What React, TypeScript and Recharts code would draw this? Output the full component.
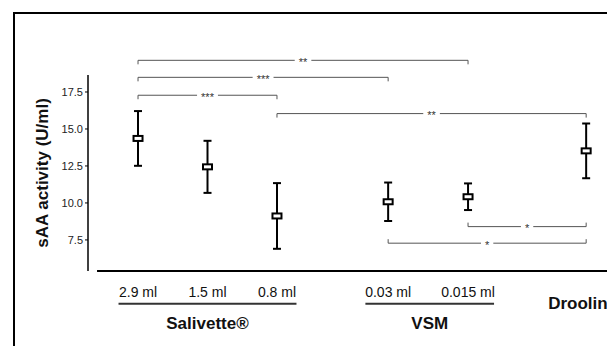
import React from 'react';
import { ComposedChart, Scatter, ErrorBar, XAxis, YAxis, ReferenceLine } from 'recharts';

// ---- data ----
const categories = ['2.9 ml', '1.5 ml', '0.8 ml', '0.03 ml', '0.015 ml', 'Drooling'];
const categoryPos = [1, 2, 3, 4.6, 5.75, 7.45];
const meanActivity = [14.36, 12.44, 9.12, 10.08, 10.42, 13.52];
const sdActivity = [1.85, 1.76, 2.22, 1.3, 0.9, 1.85];
const yTicks = [7.5, 10, 12.5, 15, 17.5];
const groupNames = ['Salivette®', 'VSM'];
const groupMembers = [[0, 1, 2], [3, 4]];
const bracketFrom = [0, 0, 0, 2, 4, 3];
const bracketTo = [4, 3, 2, 5, 5, 5];
const bracketLevel = [19.64, 18.49, 17.28, 16.04, 8.4, 7.28];
const bracketLabel = ['**', '***', '***', '**', '*', '*'];
const bracketSide = ['down', 'down', 'down', 'down', 'up', 'up'];

const Y_DOMAIN: [number, number] = [5.4, 20];
const X_DOMAIN: [number, number] = [0.28, 7.75];
const Y_AXIS_TOP = 18.64;
const X_AXIS_START = 0.41;

const FONT = '"Liberation Sans", Arial, sans-serif';

const data = categories.map((c, i) => ({
  name: c,
  x: categoryPos[i],
  mean: meanActivity[i],
  err: sdActivity[i],
}));

const BoxMarker = (p: any) => {
  const { cx, cy } = p;
  if (cx == null || cy == null) return null;
  return <rect x={cx - 4.5} y={cy - 2.5} width={9} height={5} fill="#fff" stroke="#000" strokeWidth={2} />;
};

const XTick = (props: any) => {
  const { x, y, payload } = props;
  const i = categoryPos.indexOf(payload.value);
  if (i < 0) return null;
  const grouped = groupMembers.some((m) => m.includes(i));
  if (grouped) {
    return (
      <text x={x} y={y + 25.7} textAnchor="middle" fontSize={14} fill="#111" fontFamily={FONT}>
        {categories[i]}
      </text>
    );
  }
  return (
    <text x={x - 3} y={y + 37.5} textAnchor="middle" fontSize={17} fontWeight="bold" fill="#111" fontFamily={FONT}>
      {categories[i]}
    </text>
  );
};

const bracketShape = (label: string, side: string) => (p: any) => {
  const { x1, x2, y1 } = p;
  const t = side === 'down' ? 4 : -4;
  const mid = (x1 + x2) / 2;
  const gap = (label.length * 4.3) / 2 + 4;
  return (
    <g>
      <path
        d={`M${x1},${y1 + t}V${y1}H${mid - gap}M${mid + gap},${y1}H${x2}V${y1 + t}`}
        fill="none"
        stroke="#555"
        strokeWidth={1}
      />
      <text x={mid} y={y1 + 5.5} textAnchor="middle" fontSize={11} fill="#333" fontFamily={FONT}>
        {label}
      </text>
    </g>
  );
};

const groupShape = (name: string, padL: number, padR: number) => (p: any) => {
  const { x1, x2, y1 } = p;
  const y = y1 + 32.7;
  const a = x1 - padL;
  const b = x2 + padR;
  return (
    <g>
      <line x1={a} x2={b} y1={y} y2={y} stroke="#333" strokeWidth={2} />
      <text x={(a + b) / 2} y={y + 25.3} textAnchor="middle" fontSize={17} fontWeight="bold" fill="#111" fontFamily={FONT}>
        {name}
      </text>
    </g>
  );
};

const YLabel = (props: any) => {
  const vb = props.viewBox || { x: 28, y: 55, width: 60, height: 216 };
  const cx = vb.x + 14.3;
  const cy = vb.y + vb.height / 2 + 10;
  return (
    <text
      x={cx}
      y={cy}
      transform={`rotate(-90, ${cx}, ${cy})`}
      textAnchor="middle"
      dominantBaseline="central"
      fontSize={17}
      fontWeight="bold"
      fill="#111"
      fontFamily={FONT}
    >
      sAA activity (U/ml)
    </text>
  );
};

export default function App() {
  return (
    <div style={{ position: 'absolute', left: 0, top: 0, width: 607, height: 346, overflow: 'hidden', background: '#fff' }}>
      <div
        style={{
          position: 'absolute',
          left: 13,
          top: 12,
          width: 1000,
          height: 1000,
          border: '2px solid #000',
        }}
      />
      <div style={{ position: 'absolute', left: 0, top: 0 }}>
        <ComposedChart width={607} height={346} data={data} margin={{ top: 55, right: 0, bottom: 45, left: 28 }}>
          <XAxis
            dataKey="x"
            type="number"
            domain={X_DOMAIN}
            allowDataOverflow
            ticks={categoryPos}
            interval={0}
            axisLine={false}
            tickLine={false}
            tickSize={0}
            tickMargin={0}
            height={30}
            tick={<XTick />}
          />
          <YAxis
            type="number"
            domain={Y_DOMAIN}
            allowDataOverflow
            ticks={yTicks}
            tickFormatter={(v: number) => v.toFixed(1)}
            axisLine={false}
            tickLine={{ stroke: '#000', strokeWidth: 1 }}
            tickSize={3}
            tickMargin={2}
            width={60}
            tick={{ fontSize: 11, fill: '#222', fontFamily: FONT }}
            label={{ content: <YLabel /> }}
          />
          <ReferenceLine
            segment={[
              { x: X_DOMAIN[0], y: Y_DOMAIN[0] },
              { x: X_DOMAIN[0], y: Y_AXIS_TOP },
            ]}
            stroke="#000"
            strokeWidth={1.5}
          />
          <ReferenceLine
            segment={[
              { x: X_AXIS_START, y: Y_DOMAIN[0] },
              { x: X_DOMAIN[1], y: Y_DOMAIN[0] },
            ]}
            stroke="#000"
            strokeWidth={2}
          />
          {groupNames.map((g, gi) => {
            const m = groupMembers[gi];
            const first = m[0];
            const last = m[m.length - 1];
            return (
              <ReferenceLine
                key={g}
                segment={[
                  { x: categoryPos[first], y: Y_DOMAIN[0] },
                  { x: categoryPos[last], y: Y_DOMAIN[0] },
                ]}
                ifOverflow="visible"
                shape={groupShape(g, categories[first].length * 3.25, categories[last].length * 3.25)}
              />
            );
          })}
          {bracketLabel.map((lab, bi) => (
            <ReferenceLine
              key={'b' + bi}
              segment={[
                { x: categoryPos[bracketFrom[bi]], y: bracketLevel[bi] },
                { x: categoryPos[bracketTo[bi]], y: bracketLevel[bi] },
              ]}
              ifOverflow="visible"
              shape={bracketShape(lab, bracketSide[bi])}
            />
          ))}
          <Scatter dataKey="mean" shape={BoxMarker} isAnimationActive={false}>
            <ErrorBar dataKey="err" direction="y" width={4} stroke="#000" strokeWidth={2} />
          </Scatter>
        </ComposedChart>
      </div>
    </div>
  );
}
